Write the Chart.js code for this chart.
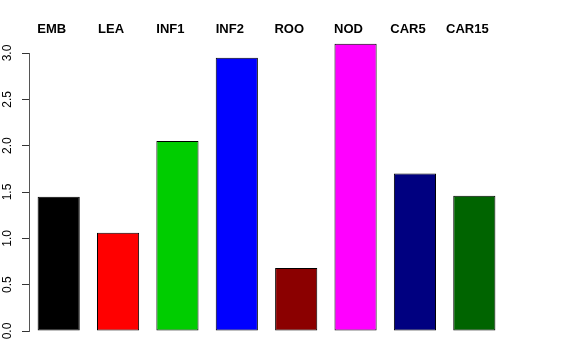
<!DOCTYPE html>
<html>
<head>
<meta charset="utf-8">
<script src="https://cdn.jsdelivr.net/npm/chart.js@4"></script>
<style>
  html, body { margin: 0; padding: 0; background: #fff; }
  #wrap { width: 576px; height: 360px; }
</style>
</head>
<body>
<div id="wrap"><canvas id="barChart" width="576" height="360"></canvas></div>
<script>
// data
var tissues = ["EMB", "LEA", "INF1", "INF2", "ROO", "NOD", "CAR5", "CAR15"];
var values = [1.45, 1.06, 2.05, 2.95, 0.68, 3.10, 1.70, 1.46];
var barColors = ["#000000", "#ff0000", "#00cd00", "#0000ff", "#8b0000", "#ff00ff", "#000080", "#006400"];
var yTicks = ["0.0", "0.5", "1.0", "1.5", "2.0", "2.5", "3.0"];

// names on top of the bars, and y labels turned on their side
var labelPlugin = {
    id: 'labelPlugin',
    afterDraw: function(chart) {
        var ctx = chart.ctx;
        var xs = chart.scales.x;
        var ys = chart.scales.y;
        ctx.save();
        ctx.fillStyle = '#000';
        ctx.font = 'bold 13px "Liberation Sans", Arial, sans-serif';
        ctx.textAlign = 'center';
        ctx.textBaseline = 'middle';
        tissues.forEach(function(name, i) {
            ctx.fillText(name, xs.getPixelForValue(i) - 7, 29);
        });
        ctx.font = '12px "Liberation Sans", Arial, sans-serif';
        yTicks.forEach(function(t) {
            var py = ys.getPixelForValue(parseFloat(t));
            ctx.save();
            ctx.translate(8, py);
            ctx.rotate(-Math.PI / 2);
            ctx.fillText(t, 0, 0);
            ctx.restore();
        });
        ctx.restore();
    }
};

var ctx = document.getElementById("barChart").getContext('2d');
var tissueChart = new Chart(ctx, {
    type: 'bar',
    data: {
        labels: tissues,
        datasets: [{
            data: values,
            backgroundColor: barColors,
            borderColor: '#000',
            borderWidth: 1,
            borderSkipped: false,
            barPercentage: 0.71,
            categoryPercentage: 1.0,
            clip: false
        }]
    },
    options: {
        responsive: false,
        animation: false,
        layout: {
            padding: { top: 53, bottom: 29, left: 0, right: 72 }
        },
        plugins: {
            legend: { display: false },
            tooltip: { enabled: false }
        },
        scales: {
            x: {
                display: false,
                offset: true
            },
            y: {
                min: 0,
                max: 3,
                afterFit: function(scale) { scale.width = 29; },
                ticks: {
                    display: false,
                    stepSize: 0.5
                },
                grid: {
                    drawOnChartArea: false,
                    drawTicks: true,
                    tickLength: 7,
                    color: '#333'
                },
                border: {
                    display: true,
                    color: '#555',
                    width: 1
                }
            }
        }
    },
    plugins: [labelPlugin]
});
</script>
</body>
</html>
